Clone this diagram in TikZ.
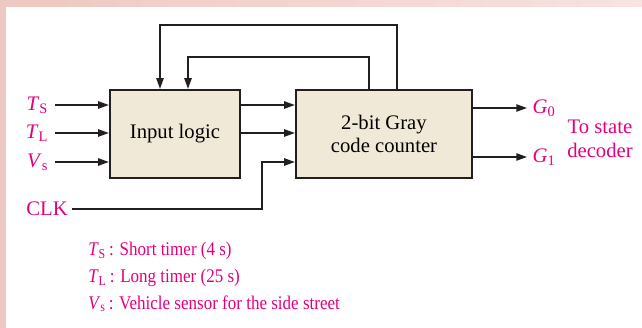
\documentclass[tikz,border=0pt]{standalone}
\usepackage{fontspec}
\setmainfont{Liberation Serif}
\newfontfamily\legendfont[FakeStretch=0.88]{Liberation Serif}
\usetikzlibrary{arrows.meta}
\definecolor{labmagenta}{RGB}{228,0,124}
\definecolor{boxfill}{RGB}{241,233,215}
\definecolor{boxline}{RGB}{35,31,32}
\definecolor{framepinkL}{RGB}{238,200,194}
\definecolor{framepinkR}{RGB}{248,226,226}
\newcommand{\sgn}[2]{\textit{#1}\textsubscript{#2}}
\tikzset{
  blockbox/.style={draw=boxline, fill=boxfill, line width=1.7pt, align=center, inner sep=0pt},
  sig/.style={draw=boxline, line width=1pt, -{Triangle[length=8pt,width=5.5pt]}},
  lab/.style={text=labmagenta, inner sep=1pt}
}
\begin{document}
\begin{tikzpicture}[x=0.75pt,y=0.75pt,yscale=-1,xscale=1,font=\fontsize{15.5}{17.5}\selectfont]
		\useasboundingbox (0,0) rectangle (642,328);
		
		%Shape: Frame
		\fill [framepinkL] (0,0) rectangle (6,328);
		\shade [left color=framepinkL, right color=framepinkR] (6,0) rectangle (642,7);
		
		%Shape: Rectangle
		\node [blockbox, minimum width=97.5pt, minimum height=66pt] (logic) at (175,134) {Input logic};
		%Shape: Rectangle
		\node [blockbox, minimum width=132pt, minimum height=66pt] (counter) at (384,134) {2-bit Gray\\code counter};
		
		%Points
		\coordinate (ts) at (55,105);
		\coordinate (tl) at (55,133);
		\coordinate (vs) at (55,162);
		\coordinate (qa) at (296,105);
		\coordinate (qb) at (296,133);
		\coordinate (qc) at (296,162);
		\coordinate (clkbend) at (262,209);
		\coordinate (fbouterL) at (160,25);
		\coordinate (fbouterR) at (397,25);
		\coordinate (fbinnerL) at (188,57);
		\coordinate (fbinnerR) at (369,57);
		\coordinate (g0) at (527,108);
		\coordinate (g1) at (527,157);
		
		%Straight Lines
		\draw [sig] (ts) -- (logic.west |- ts);
		\draw [sig] (tl) -- (logic.west |- tl);
		\draw [sig] (vs) -- (logic.west |- vs);
		\draw [sig] (logic.east |- qa) -- (counter.west |- qa);
		\draw [sig] (logic.east |- qb) -- (counter.west |- qb);
		%Straight Lines
		\draw [sig] (counter.north -| fbouterR) -- (fbouterR) -- (fbouterL) -- (logic.north -| fbouterL);
		\draw [sig] (counter.north -| fbinnerR) -- (fbinnerR) -- (fbinnerL) -- (logic.north -| fbinnerL);
		%Straight Lines
		\draw [sig] (counter.east |- g0) -- (g0);
		\draw [sig] (counter.east |- g1) -- (g1);
		
		% Text Node
		\node [lab, anchor=east] (tslab) at ([xshift=-4pt]ts) {\sgn{T}{S}};
		\node [lab, anchor=east] (tllab) at ([xshift=-4pt]tl) {\sgn{T}{L}};
		\node [lab, anchor=east] (vslab) at ([xshift=-4pt]vs) {\sgn{V}{s}};
		% Text Node
		\node [lab, anchor=east, inner xsep=3pt] (clk) at (72,209) {CLK};
		\draw [sig] (clk.east) -- (clkbend) |- (counter.west |- qc);
		% Text Node
		\node [lab, anchor=west] (g0lab) at ([xshift=3pt]g0) {\sgn{G}{0}};
		\node [lab, anchor=west] (g1lab) at ([xshift=3pt]g1) {\sgn{G}{1}};
		\node [lab, align=center] (dest) at (600,139) {To state\\decoder};
		
		% Text Node
		\node [lab, anchor=north west, align=left, inner sep=0pt,
		       font=\legendfont\fontsize{14.5}{20}\selectfont] (legend) at (88,242)
		  {\sgn{T}{S}\,: Short timer (4 s)\\
		   \sgn{T}{L}\,: Long timer (25 s)\\
		   \sgn{V}{s}\,: Vehicle sensor for the side street};
		
	\end{tikzpicture}
\end{document}
